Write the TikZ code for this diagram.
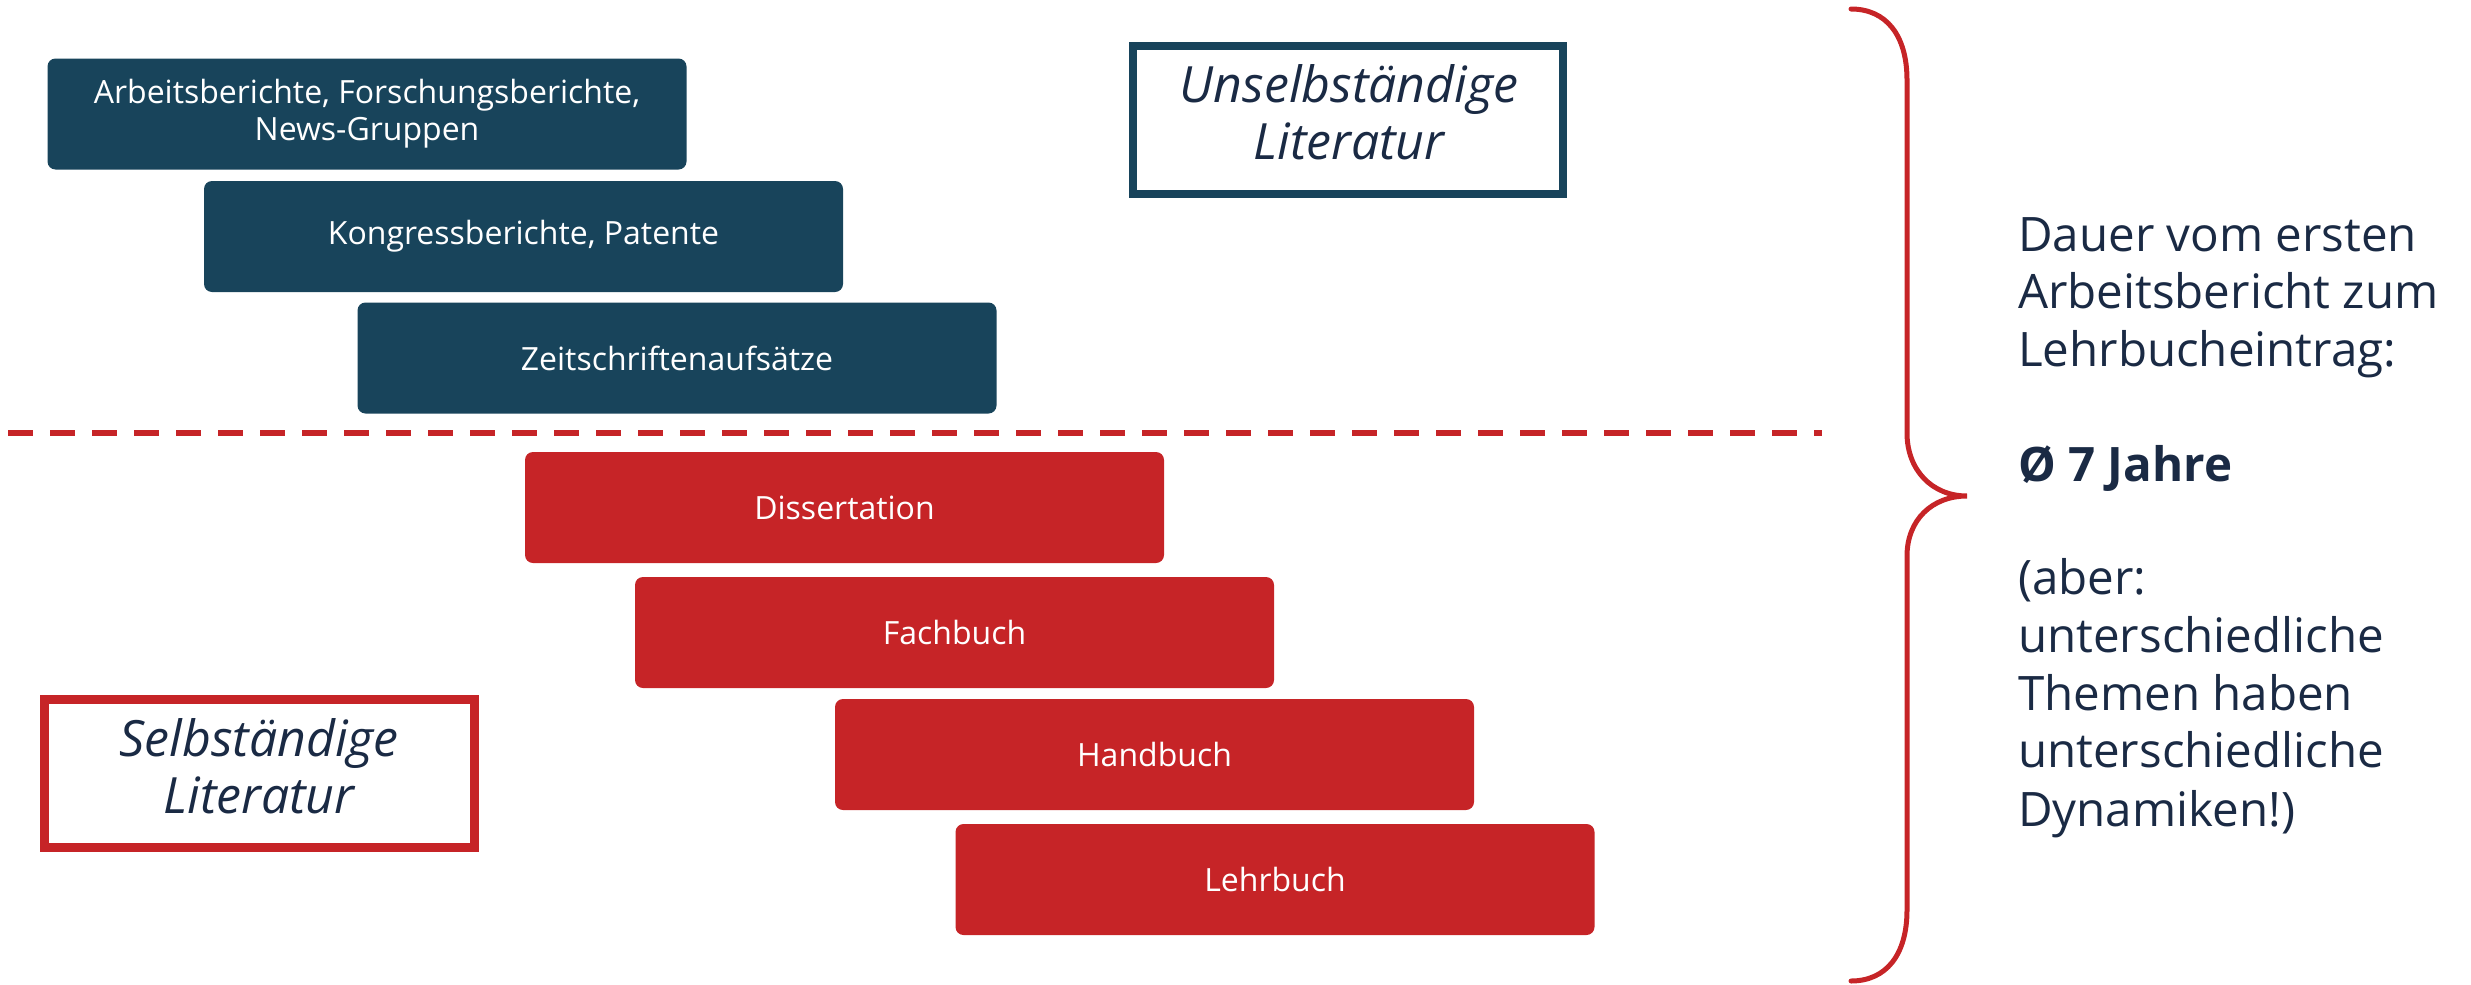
\documentclass[tikz,border=0pt]{standalone}
\usepackage{fontspec}
\setmainfont{Open Sans}
\definecolor{boxblue}{HTML}{18445B}
\definecolor{boxred}{HTML}{C62427}
\definecolor{navy}{HTML}{1A2A44}
\tikzset{
  card/.style={minimum width=639pt, minimum height=111pt, inner sep=0pt, rounded corners=8pt,
    text=white, align=center, font=\fontsize{32}{37}\selectfont},
  bluecard/.style={card, fill=boxblue},
  redcard/.style={card, fill=boxred},
  labelbox/.style={minimum width=430pt, minimum height=148pt, inner sep=0pt, fill=white},
  labeltext/.style={inner sep=0pt, text=navy, align=center, font=\fontsize{50}{57}\selectfont\itshape},
  sideline/.style={anchor=base west, inner sep=0pt, text=navy, font=\fontsize{47.5}{58}\selectfont},
}
\begin{document}
\begin{tikzpicture}[x=1pt,y=-1pt]
\useasboundingbox (0,0) rectangle (2471,985);
% blue cards
\node[bluecard] (b1) at (367,114) {Arbeitsberichte, Forschungsberichte,\\News-Gruppen};
\node[bluecard] (b2) at (523.5,236.5) {Kongressberichte, Patente};
\node[bluecard] (b3) at (677,358) {Zeitschriftenaufsätze};
% dashed separator
\coordinate (dl) at (8,433);
\coordinate (dr) at (1822,433);
\draw[boxred, line width=6pt, dash pattern=on 25pt off 17pt] (dl) -- (dr);
% red cards
\node[redcard] (r1) at (844.5,507.5) {Dissertation};
\node[redcard] (r2) at (954.5,632.5) {Fachbuch};
\node[redcard] (r3) at (1154.5,754.5) {Handbuch};
\node[redcard] (r4) at (1275,879.5) {Lehrbuch};
% label boxes
\node[labelbox, draw=boxblue, line width=8pt] (unselb) at (1348,119.5) {};
\node[labeltext] (unselbtxt) at (1349,112) {Unselbständige\\Literatur};
\node[labelbox, draw=boxred, line width=9pt] (selb) at (259,773) {};
\node[labeltext] (selbtxt) at (259,766) {Selbständige\\Literatur};
% brace
\coordinate (bt) at (1851,9);
\coordinate (bm) at (1967,496);
\coordinate (bb) at (1851,981);
\draw[boxred, line width=5pt, line cap=round]
  (bt) .. controls (1886,9) and (1907,35) .. (1907,80)
  -- (1907,433) .. controls (1907,470) and (1932,496) .. (bm)
  .. controls (1932,496) and (1907,520) .. (1907,556)
  -- (1907,910) .. controls (1907,955) and (1886,981) .. (bb);
% side text
\node[sideline] (t1) at (2018,251) {Dauer vom ersten};
\node[sideline] (t2) at (2018,308) {Arbeitsbericht zum};
\node[sideline] (t3) at (2018,366) {Lehrbucheintrag:};
\node[sideline, font=\fontsize{47.5}{58}\selectfont\bfseries] (t4) at (2018,481) {Ø 7 Jahre};
\node[sideline] (t5) at (2018,594) {(aber:};
\node[sideline] (t6) at (2018,652) {unterschiedliche};
\node[sideline] (t7) at (2018,710) {Themen haben};
\node[sideline] (t8) at (2018,767) {unterschiedliche};
\node[sideline] (t9) at (2018,826) {Dynamiken!)};
\end{tikzpicture}
\end{document}
